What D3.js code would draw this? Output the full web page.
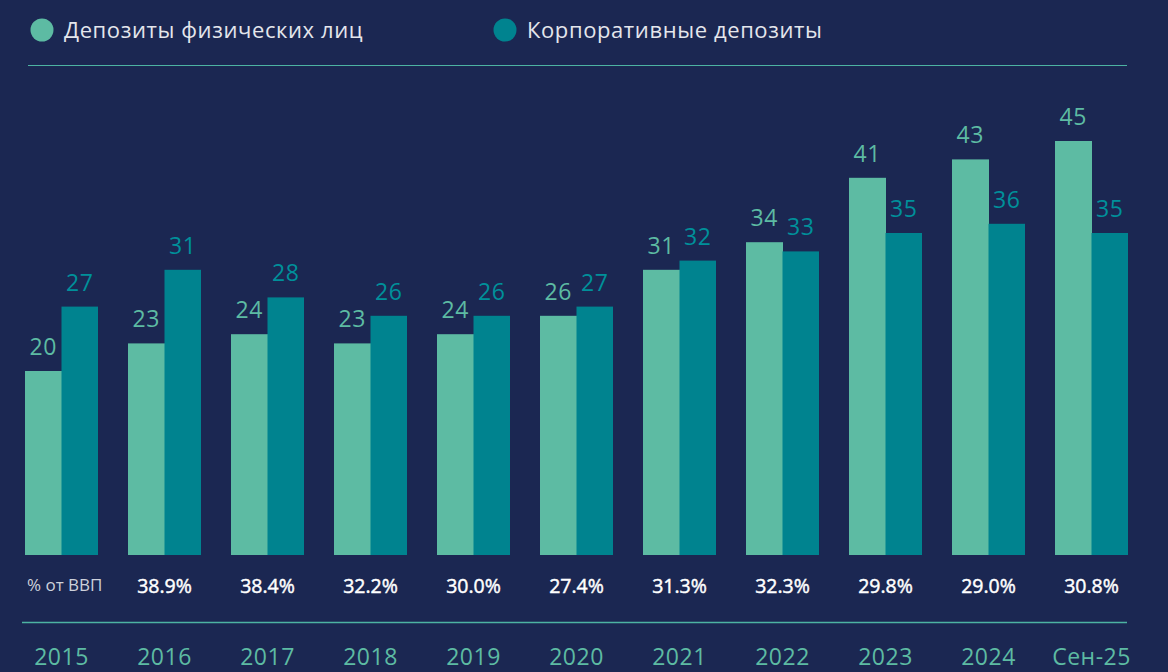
<!DOCTYPE html>
<html><head><meta charset="utf-8">
<script src="https://cdn.jsdelivr.net/npm/d3@7/dist/d3.min.js"></script>
<style>
html,body{margin:0;padding:0;background:#1b2752;}
svg{display:block;}
text{font-family:"Open Sans","Noto Sans",sans-serif;}
</style></head>
<body><svg id="chart" width="1168" height="672"></svg>
<script>
const categories = ["2015","2016","2017","2018","2019","2020","2021","2022","2023","2024","Сен-25"];
const seriesNames = ["Депозиты физических лиц","Корпоративные депозиты"];
const individual = [20,23,24,23,24,26,31,34,41,43,45];
const corporate = [27,31,28,26,26,27,32,33,35,36,35];
const gdpCategories = ["2016","2017","2018","2019","2020","2021","2022","2023","2024","Сен-25"];
const gdpShare = ["38.9%","38.4%","32.2%","30.0%","27.4%","31.3%","32.3%","29.8%","29.0%","30.8%"];
const gdpLabel = "% от ВВП";

const W = 1168, H = 672;
const colors = ["#5dbba3", "#00838f"];
const labelColors = ["#5dbba3", "#00909a"];
const svg = d3.select("#chart");
svg.append("rect").attr("width", W).attr("height", H).attr("fill", "#1b2752");

const x = d3.scaleBand().domain(categories).range([10, 1143]).paddingInner(30/103).paddingOuter(15/103);
const xs = d3.scaleBand().domain([0,1]).range([0, x.bandwidth()]);
const y = d3.scaleLinear().domain([0, 45]).range([555, 141]);

const series = [individual, corporate];

// legend
const legendX = [42, 505];
seriesNames.forEach((name, i) => {
  svg.append("circle").attr("cx", legendX[i]).attr("cy", 30).attr("r", 11.5).attr("fill", colors[i]);
  svg.append("text").attr("x", legendX[i] + 22).attr("y", 37.5).attr("fill", "#e4e6ec")
    .attr("font-size", 22).attr("letter-spacing", 0.6).text(name);
});
svg.append("line").attr("x1", 28).attr("x2", 1127).attr("y1", 65.5).attr("y2", 65.5)
  .attr("stroke", "#4db3a2").attr("stroke-width", 1);

// bars
series.forEach((vals, si) => {
  const g = svg.append("g");
  g.selectAll("rect").data(vals).join("rect")
    .attr("x", (d, i) => x(categories[i]) + xs(si))
    .attr("y", d => y(d))
    .attr("width", xs.bandwidth() + (si === 0 ? 0.5 : 0))
    .attr("height", d => y(0) - y(d))
    .attr("fill", colors[si]);
  g.selectAll("text").data(vals).join("text")
    .attr("x", (d, i) => x(categories[i]) + xs(si) + xs.bandwidth() / 2)
    .attr("y", d => y(d) - 16)
    .attr("text-anchor", "middle")
    .attr("fill", labelColors[si])
    .attr("font-size", 23)
    .attr("letter-spacing", 0.5)
    .text(d => d);
});

// GDP row
svg.append("text").attr("x", 27).attr("y", 591).attr("fill", "#cdd1db")
  .attr("font-family", "'DejaVu Sans',sans-serif").attr("font-size", 17).text(gdpLabel);
svg.append("g").selectAll("text").data(gdpShare).join("text")
  .attr("x", (d, i) => x(gdpCategories[i]) + x.bandwidth() / 2)
  .attr("y", 593)
  .attr("text-anchor", "middle")
  .attr("fill", "#ffffff")
  .attr("stroke", "#ffffff")
  .attr("stroke-width", 0.45)
  .attr("font-family", "'DejaVu Sans',sans-serif")
  .attr("font-size", 19.5)
  .text(d => d);

svg.append("line").attr("x1", 22).attr("x2", 1127).attr("y1", 622.5).attr("y2", 622.5)
  .attr("stroke", "#4db3a2").attr("stroke-width", 1.5);

// x axis labels
const xAxis = d3.axisBottom(x).tickSize(0).tickPadding(0);
const ax = svg.append("g").attr("transform", "translate(0,649)").call(xAxis);
ax.select(".domain").remove();
ax.selectAll("text").attr("fill", "#5dbba3").attr("font-size", 23).attr("letter-spacing", 0.5)
  .attr("font-family", "'Open Sans','Noto Sans',sans-serif");
</script></body></html>
